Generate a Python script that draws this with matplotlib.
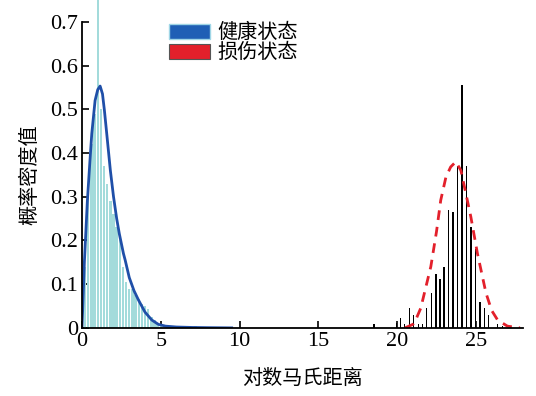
import numpy as np
import matplotlib
matplotlib.use("Agg")
import matplotlib.pyplot as plt
from matplotlib.patches import Patch

# ---------------------------------------------------------------
# data
# ---------------------------------------------------------------
# healthy state histogram (light cyan bars)
healthy_bin_x = [0.2, 0.4, 0.6, 0.8, 1.0, 1.2, 1.4, 1.6, 1.8, 2.0,
                 2.2, 2.4, 2.6, 2.8, 3.0, 3.2, 3.4, 3.6, 3.8, 4.0,
                 4.2, 4.4, 4.6, 4.8, 5.0, 5.4, 6.6, 7.2]
healthy_bin_h = [0.14, 0.30, 0.42, 0.49, 0.75, 0.50, 0.37, 0.33, 0.29, 0.26,
                 0.23, 0.20, 0.14, 0.105, 0.09, 0.09, 0.075, 0.065, 0.055, 0.05,
                 0.044, 0.025, 0.018, 0.01, 0.006, 0.003, 0.004, 0.004]

# healthy state fitted density (blue line)
healthy_fit_x = [0.0, 0.15, 0.34, 0.5, 0.62, 0.83, 1.0, 1.15, 1.3, 1.42,
                 1.57, 1.8, 2.0, 2.2, 2.37, 2.63, 2.74, 3.0, 3.3, 3.58,
                 4.0, 4.43, 4.85, 5.3, 6.0, 7.0, 8.0, 9.5]
healthy_fit_y = [0.0, 0.15, 0.29, 0.38, 0.444, 0.52, 0.545, 0.553, 0.535, 0.498,
                 0.444, 0.36, 0.30, 0.25, 0.215, 0.17, 0.155, 0.115, 0.085, 0.064,
                 0.036, 0.018, 0.008, 0.004, 0.002, 0.001, 0.0005, 0.0]

# damaged state histogram (thin black bars)
damaged_bin_x = [18.53, 19.97, 20.23, 20.48, 20.8, 21.04, 21.35, 21.63, 21.88, 22.18,
                 22.46, 22.73, 22.99, 23.28, 23.54, 23.84, 24.13, 24.4, 24.7, 24.98,
                 25.25, 25.53, 25.8, 26.38, 26.7]
damaged_bin_h = [0.008, 0.012, 0.022, 0.008, 0.045, 0.03, 0.01, 0.01, 0.045, 0.08,
                 0.123, 0.112, 0.14, 0.27, 0.265, 0.37, 0.555, 0.37, 0.23, 0.18,
                 0.06, 0.045, 0.03, 0.008, 0.005]

# damaged state fitted density (red dashed line)
damaged_fit_x = [20.5, 21.0, 21.18, 21.5, 22.14, 22.5, 22.77, 23.1, 23.4, 23.73,
                 24.05, 24.35, 24.68, 25.1, 25.64, 26.0, 26.38, 27.0, 27.8]
damaged_fit_y = [0.0, 0.008, 0.018, 0.045, 0.14, 0.22, 0.292, 0.345, 0.368, 0.38,
                 0.36, 0.31, 0.254, 0.17, 0.08, 0.04, 0.018, 0.004, 0.0]

x_ticks = [0, 5, 10, 15, 20, 25]
y_ticks = [0, 0.1, 0.2, 0.3, 0.4, 0.5, 0.6, 0.7]
y_tick_labels = ["0", "0.1", "0.2", "0.3", "0.4", "0.5", "0.6", "0.7"]

labels = ["健康状态", "损伤状态"]
x_label = "对数马氏距离"
y_label = "概率密度值"

# ---------------------------------------------------------------
# plot
# ---------------------------------------------------------------
plt.rcParams['font.family'] = ['Liberation Serif', 'Noto Sans CJK SC']
cjk = ['Noto Sans CJK SC', 'DejaVu Sans']

fig = plt.figure(figsize=(5.36, 3.96), dpi=100)
ax = fig.add_axes([0.153, 0.172, 0.823, 0.773])

cyan = '#a3dbdb'
blue = '#1f4fa8'
red = '#e3202b'

ax.bar(healthy_bin_x, healthy_bin_h, width=0.15, color=cyan, linewidth=0,
       clip_on=False, zorder=2)
ax.plot(healthy_fit_x, healthy_fit_y, color=blue, linewidth=2.0, zorder=3)

ax.bar(damaged_bin_x, damaged_bin_h, width=0.09, color='black', linewidth=0,
       zorder=2)
ax.plot(damaged_fit_x, damaged_fit_y, color=red, linewidth=2.0,
        linestyle=(0, (3.5, 2.5)), zorder=3)

ax.set_xlim(0, 28)
ax.set_ylim(0, 0.7)
ax.set_xticks(x_ticks)
ax.set_yticks(y_ticks)
ax.set_yticklabels(y_tick_labels)

for side in ['top', 'right']:
    ax.spines[side].set_visible(False)
for side in ['left', 'bottom']:
    ax.spines[side].set_linewidth(1.3)
    ax.spines[side].set_zorder(4)
ax.tick_params(direction='in', length=5, width=1.2, labelsize=16, pad=3)

ax.set_xlabel(x_label, family=cjk, fontsize=14.5, labelpad=12)
ax.set_ylabel(y_label, family=cjk, fontsize=14.5, labelpad=7)

handles = [Patch(facecolor='#1f5fb5', edgecolor='#9fd6e6', linewidth=1.0),
           Patch(facecolor=red, edgecolor='#555555', linewidth=0.8)]
ax.legend(handles, labels, loc='upper left', bbox_to_anchor=(0.18, 1.025),
          frameon=False, prop={'family': cjk, 'size': 14.5},
          handlelength=2.0, handleheight=0.75, handletextpad=0.4,
          labelspacing=-0.05, borderaxespad=0)

fig.savefig('out.png', dpi=100)
